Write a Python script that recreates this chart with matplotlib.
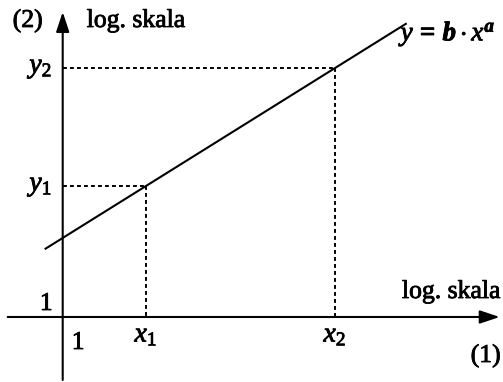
import numpy as np
from matplotlib import pyplot as plt
from matplotlib import patheffects as pe

plt.rcParams['font.family'] = 'Liberation Serif'
plt.rcParams['mathtext.fontset'] = 'custom'
plt.rcParams['mathtext.rm'] = 'Liberation Serif'
plt.rcParams['mathtext.it'] = 'Liberation Serif:italic'
plt.rcParams['mathtext.bf'] = 'Liberation Serif:bold'
plt.rcParams['mathtext.bfit'] = 'Liberation Serif:bold:italic'

# log-log coordinates, origin at (1, 1)
x_pts = [0.835, 2.725]          # log x1, log x2
y_pts = [1.31, 2.49]            # log y1, log y2
line_x = [-0.18, 3.44]          # y = b * x^a as a straight line
line_y = [0.678, 2.937]
x_names = ['$x_1$', '$x_2$']
y_names = ['$y_1$', '$y_2$']

fig = plt.figure(figsize=(5.03, 3.82), dpi=100)
ax = fig.add_axes([0, 0, 1, 1])
ax.set_xlim(-0.627, 4.403)
ax.set_ylim(-0.65, 3.17)
ax.axis('off')

# slightly heavier glyphs
heavy = [pe.withStroke(linewidth=0.6, foreground='black')]

arrow = dict(arrowstyle='-|>,head_length=1.2,head_width=0.4', mutation_scale=10,
             color='black', lw=1.5, shrinkA=0, shrinkB=0)
# axes with arrows
ax.annotate('', xy=(4.37, 0), xytext=(-0.55, 0), arrowprops=arrow)
ax.annotate('', xy=(0, 3.05), xytext=(0, -0.63), arrowprops=arrow)

# regression line
ax.plot(line_x, line_y, color='black', lw=1.5, solid_capstyle='butt')

# dotted guides
for xv, yv, xn, yn in zip(x_pts, y_pts, x_names, y_names):
    ax.plot([0, xv], [yv, yv], color='black', lw=1.4, ls=(0, (2.0, 1.6)))
    ax.plot([xv, xv], [yv, 0], color='black', lw=1.4, ls=(0, (2.0, 1.6)))
    ax.text(xv, -0.18, xn, fontsize=20, ha='center', va='center', path_effects=heavy)
    ax.text(-0.08, yv, yn, fontsize=20, ha='right', va='center', path_effects=heavy)

fs = 18.5
ax.text(-0.10, 0.07, '1', fontsize=fs, ha='right', va='baseline', path_effects=heavy)
ax.text(0.09, -0.32, '1', fontsize=fs, ha='left', va='baseline', path_effects=heavy)
ax.text(4.38, 0.19, 'log. skala', fontsize=fs, ha='right', va='baseline', path_effects=heavy)
ax.text(0.24, 2.90, 'log. skala', fontsize=fs, ha='left', va='baseline', path_effects=heavy)
ax.text(4.38, -0.45, '(1)', fontsize=fs, ha='right', va='baseline', path_effects=heavy)
ax.text(-0.50, 2.90, '(2)', fontsize=fs, ha='left', va='baseline', path_effects=heavy)
ax.text(3.38, 2.83, r'$y\,\mathbf{=}\,\mathbfit{b}\cdot x^{\mathbfit{a}}$',
        fontsize=19.5, ha='left', va='center', path_effects=heavy)

fig.savefig('out.png', dpi=100)
